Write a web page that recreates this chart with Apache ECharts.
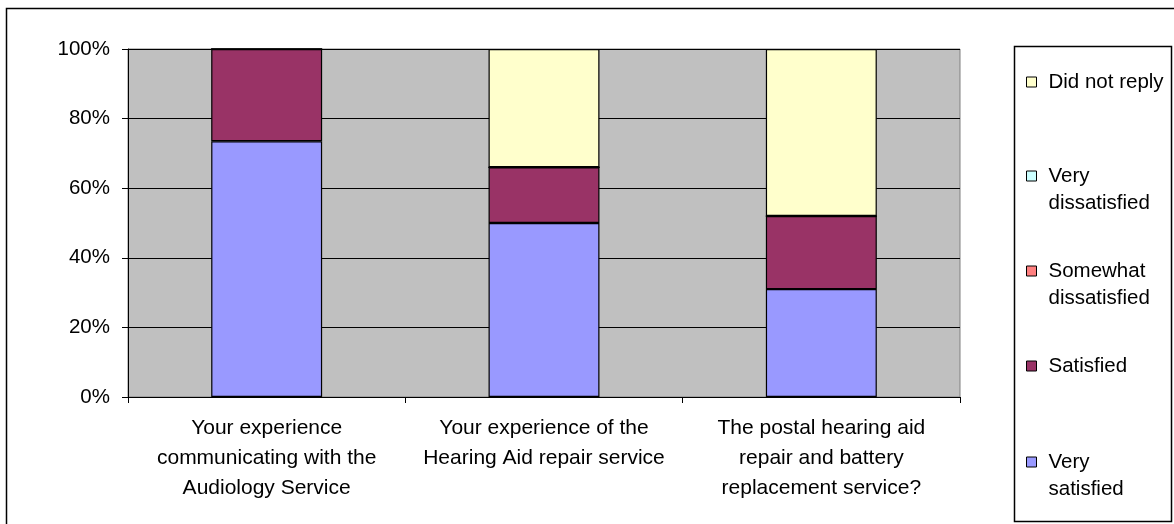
<!DOCTYPE html>
<html>
<head>
<meta charset="utf-8">
<script src="https://cdn.jsdelivr.net/npm/echarts@6/dist/echarts.min.js"></script>
<style>
  html, body { margin: 0; padding: 0; background: #fff; }
  #chart { width: 1174px; height: 524px; }
</style>
</head>
<body>
<div id="chart"></div>
<script>
const categories = [
  'Your experience\ncommunicating with the\nAudiology Service',
  'Your experience of the\nHearing Aid repair service',
  'The postal hearing aid\nrepair and battery\nreplacement service?',
];
const verySatisfied = [73.5, 50, 31];
const satisfied = [26.5, 16, 21];
const somewhatDissatisfied = [0, 0, 0];
const veryDissatisfied = [0, 0, 0];
const didNotReply = [0, 34, 48];
const yTicks = [0, 20, 40, 60, 80, 100];

const font = '"Liberation Sans", Arial, sans-serif';

const makeSeries = (name, data, color) => ({
  name,
  type: 'bar',
  stack: 'total',
  data,
  barWidth: '40%',
  itemStyle: { color, borderColor: '#000', borderWidth: 1.2 },
});

// one legend per item so they can be spread down the box like the original.
// two-line names get an empty first line so the marker sits on the first text line
const legendItem = (name, top, twoLines) => ({
  orient: 'vertical',
  left: 1026,
  top,
  padding: 0,
  itemWidth: 10,
  itemHeight: 10,
  icon: 'rect',
  itemStyle: { borderColor: '#000', borderWidth: 1 },
  data: [name],
  formatter: (n) => (twoLines ? '\n' + n.replace(' ', '\n') : n),
  textStyle: {
    fontFamily: font,
    fontSize: 20.5,
    color: '#000',
    lineHeight: 27,
    padding: [0, 0, 0, 7],
  },
});

const chart = echarts.init(document.getElementById('chart'));
chart.setOption({
  animation: false,
  textStyle: { fontFamily: font },
  graphic: [
    {
      type: 'rect',
      shape: { x: 6.5, y: 8.5, width: 1200, height: 600 },
      style: { fill: 'none', stroke: '#000', lineWidth: 1.5 },
      silent: true,
    },
    {
      type: 'rect',
      shape: { x: 1014.5, y: 46.5, width: 157, height: 475 },
      style: { fill: '#fff', stroke: '#000', lineWidth: 1.5 },
      silent: true,
    },
  ],
  legend: [
    legendItem('Did not reply', 68.5, false),
    legendItem('Very dissatisfied', 135.5, true),
    legendItem('Somewhat dissatisfied', 230.5, true),
    legendItem('Satisfied', 352.5, false),
    legendItem('Very satisfied', 421.5, true),
  ],
  grid: {
    left: 128,
    top: 49,
    right: 214,
    bottom: 127,
    show: true,
    backgroundColor: '#C0C0C0',
    borderColor: '#808080',
    borderWidth: 1,
  },
  xAxis: {
    type: 'category',
    data: categories,
    axisLine: { lineStyle: { color: '#000', width: 1 } },
    axisTick: { show: true, length: 6, inside: false, lineStyle: { color: '#000' } },
    axisLabel: {
      color: '#000',
      fontSize: 21,
      lineHeight: 30,
      margin: 16,
      interval: 0,
      align: 'center',
    },
  },
  yAxis: {
    type: 'value',
    min: 0,
    max: 100,
    interval: 20,
    axisLine: { show: true, lineStyle: { color: '#000', width: 1 } },
    axisTick: { show: true, length: 6, lineStyle: { color: '#000' } },
    axisLabel: {
      color: '#000',
      fontSize: 20.5,
      margin: 18,
      formatter: (v) => (yTicks.includes(v) ? v + '%' : ''),
    },
    splitLine: { show: true, lineStyle: { color: '#000', width: 1.2 } },
  },
  series: [
    makeSeries('Very satisfied', verySatisfied, '#9999FF'),
    makeSeries('Satisfied', satisfied, '#993366'),
    makeSeries('Somewhat dissatisfied', somewhatDissatisfied, '#FF8080'),
    makeSeries('Very dissatisfied', veryDissatisfied, '#CCFFFF'),
    makeSeries('Did not reply', didNotReply, '#FFFFCC'),
  ],
});
</script>
</body>
</html>
